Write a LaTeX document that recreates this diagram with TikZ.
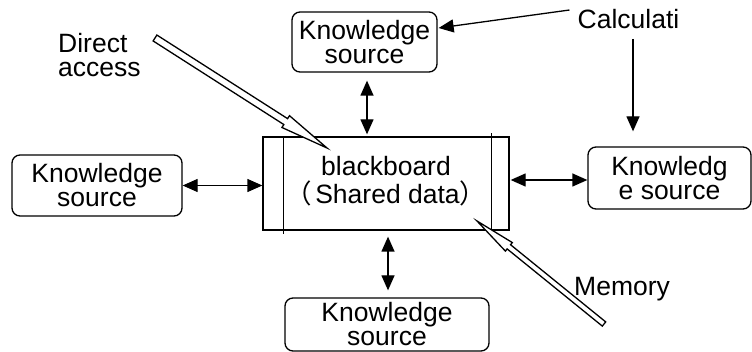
\documentclass[tikz,border=0pt]{standalone}
\usepackage{fontspec}
\setmainfont{Liberation Sans}
\newfontfamily\cjk{Noto Sans CJK SC}
\usetikzlibrary{arrows.meta,calc}
\begin{document}
\begin{tikzpicture}[x=1pt,y=-1pt,
  txt/.style={font=\fontsize{26.5}{24}\selectfont, inner sep=0pt, align=center},
  ks/.style={txt, draw, rounded corners=8pt, line width=1.3pt},
  dbl/.style={{Triangle[length=15pt,width=13pt]}-{Triangle[length=15pt,width=13pt]}, line width=1.3pt},
  sgl/.style={-{Triangle[length=15pt,width=13pt]}, line width=1.3pt},
  hollow/.style={draw, fill=white, line width=1.3pt, line join=miter}]
\useasboundingbox (0,0) rectangle (752,352);
% knowledge sources
\node[ks, minimum width=145pt, minimum height=60pt] (top) at (364.5,42) {Knowledge\\source};
\node[ks, minimum width=170pt, minimum height=61pt] (left) at (97,185.5) {Knowledge\\source};
\node[ks, minimum width=163pt, minimum height=62pt] (right) at (669.5,178) {Knowledg\\e source};
\node[ks, minimum width=204pt, minimum height=53pt] (bot) at (387,324.5) {Knowledge\\source};
% blackboard
\node[draw, line width=1.3pt, minimum width=246pt, minimum height=93pt, inner sep=0pt] (bb) at (386,183.5) {};
\draw[line width=1.3pt] ($(bb.north west)+(21,0)$) -- ($(bb.south west)+(21,3)$);
\draw[line width=1.3pt] ($(bb.north east)+(-18,-3)$) -- ($(bb.south east)+(-18,0)$);
\node[txt, font=\fontsize{26.5}{28}\selectfont] (bbt) at (386,181) {blackboard\\{\cjk （}\hspace{3pt}Shared data{\cjk ）}};
% labels
\node[txt, anchor=west, align=left] (da) at (58,55) {Direct\\access};
\node[txt] (calc) at (628.5,19) {Calculati};
\node[txt, anchor=west] (mem) at (574,289) {Memory};
% connectors
\draw[dbl] ($(top.south)+(2.5,8)$) -- ($(top.south |- bb.north)+(2.5,-2)$);
\draw[dbl] (left.east) -- (left.east -| bb.west);
\draw[dbl] ($(right.west -| bb.east)+(1,2)$) -- ($(right.west)+(0,2)$);
\draw[dbl] ($(bot.north |- bb.south)+(1,6)$) -- ($(bot.north)+(1,-7)$);
\draw[sgl] ($(calc.west)+(-8,-9)$) -- ($(top.east)+(1,-14)$);
\draw[sgl] ($(calc.south)+(4.5,10)$) -- ($(right.north -| calc.south)+(4.5,-15)$);
% hollow arrows
\coordinate (dT) at (155,38);
\coordinate (dP) at (327,148);
\coordinate (dH) at ($(dP)!49pt!(dT)$);
\path[hollow] ($(dT)!3.5pt!90:(dP)$) -- ($(dH)!3.5pt!90:(dP)$) -- ($(dH)!7pt!90:(dP)$) -- (dP)
  -- ($(dH)!7pt!-90:(dP)$) -- ($(dH)!3.5pt!-90:(dP)$) -- ($(dT)!3.5pt!-90:(dP)$) -- cycle;
\coordinate (mT) at (604,324);
\coordinate (mP) at (477,221);
\coordinate (mH) at ($(mP)!41pt!(mT)$);
\path[hollow] ($(mT)!2.7pt!90:(mP)$) -- ($(mH)!2.7pt!90:(mP)$) -- ($(mH)!5.5pt!90:(mP)$) -- (mP)
  -- ($(mH)!5.5pt!-90:(mP)$) -- ($(mH)!2.7pt!-90:(mP)$) -- ($(mT)!2.7pt!-90:(mP)$) -- cycle;
\end{tikzpicture}
\end{document}
